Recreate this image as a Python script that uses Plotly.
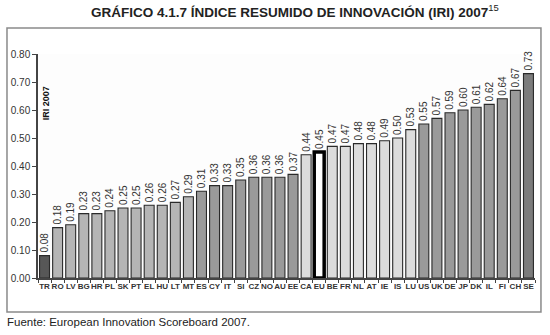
import plotly.graph_objects as go

# Índice Resumido de Innovación 2007 por país
countries = ["TR", "RO", "LV", "BG", "HR", "PL", "SK", "PT", "EL", "HU", "LT", "MT",
             "ES", "CY", "IT", "SI", "CZ", "NO", "AU", "EE", "CA", "EU", "BE", "FR",
             "NL", "AT", "IE", "IS", "LU", "US", "UK", "DE", "JP", "DK", "IL", "FI",
             "CH", "SE"]
iri_2007 = [0.08, 0.18, 0.19, 0.23, 0.23, 0.24, 0.25, 0.25, 0.26, 0.26, 0.27, 0.29,
            0.31, 0.33, 0.33, 0.35, 0.36, 0.36, 0.36, 0.37, 0.44, 0.45, 0.47, 0.47,
            0.48, 0.48, 0.49, 0.50, 0.53, 0.55, 0.57, 0.59, 0.60, 0.61, 0.62, 0.64,
            0.67, 0.73]
groups = ["low"] + ["catch"] * 11 + ["mid"] * 8 + ["light"] + ["eu"] + ["light"] * 7 + ["mid"] * 8 + ["top"]
y_ticks = [0.0, 0.1, 0.2, 0.3, 0.4, 0.5, 0.6, 0.7, 0.8]

fill = {"low": "#575757", "catch": "#b5b5b5", "mid": "#9a9a9a",
        "light": "#dcdcdc", "eu": "#ffffff", "top": "#7c7c7c"}
bar_colors = [fill[g] for g in groups]
line_widths = [3.5 if g == "eu" else 1.1 for g in groups]
line_colors = ["#000000" if g == "eu" else "#2a2a2a" for g in groups]

fig = go.Figure(go.Bar(
    x=countries, y=iri_2007,
    marker=dict(color=bar_colors, line=dict(color=line_colors, width=line_widths)),
    text=[f"{v:.2f}" for v in iri_2007],
    textposition="outside", textangle=-90, constraintext="none",
    textfont=dict(family="Liberation Sans, Arial", size=10, color="#333333"),
    cliponaxis=False,
))

fig.update_layout(
    width=550, height=335,
    margin=dict(l=38, r=15, t=54, b=57),
    paper_bgcolor="#ffffff", plot_bgcolor="#fdfdfd",
    bargap=0.24, showlegend=False,
    font=dict(family="Liberation Sans, Arial", color="#222222"),
)
fig.update_yaxes(
    range=[0, 0.8], tickvals=y_ticks, ticktext=[f"{v:.2f}" for v in y_ticks],
    showgrid=False, zeroline=False, showline=True, linecolor="#444444", linewidth=1.5,
    ticks="outside", ticklen=4, tickcolor="#444444",
    tickfont=dict(size=10, color="#333333"),
)
fig.update_xaxes(
    showgrid=False, showline=True, linecolor="#444444", linewidth=1.5,
    ticks="outside", ticklen=3, tickcolor="#444444", tickson="boundaries",
    tickfont=dict(size=8, color="#333333", family="Liberation Sans, Arial"),
    tickangle=0,
)
# country codes in bold
fig.update_xaxes(tickvals=countries, ticktext=[f"<b>{c}</b>" for c in countries])

fig.add_shape(type="rect", xref="paper", yref="paper",
              x0=-0.0624, x1=1.012, y0=-0.152, y1=1.116,
              line=dict(color="#8a8a8a", width=1.5), layer="below")

fig.add_annotation(xref="paper", yref="paper", x=0.518, y=1.19,
                   text="<b>GRÁFICO 4.1.7 ÍNDICE RESUMIDO DE INNOVACIÓN (IRI) 2007</b><sup>15</sup>",
                   showarrow=False, font=dict(size=13.5, color="#222222"),
                   xanchor="center", yanchor="middle")
fig.add_annotation(xref="paper", yref="paper", x=0.016, y=0.78,
                   text="<b>IRI 2007</b>", textangle=-90, showarrow=False,
                   font=dict(size=9, color="#111111"), xanchor="center", yanchor="middle")
fig.add_annotation(xref="paper", yref="paper", x=-0.066, y=-0.197,
                   text="Fuente: European Innovation Scoreboard 2007.", showarrow=False,
                   font=dict(size=11.5, color="#222222"), xanchor="left", yanchor="middle")

fig.write_html("out.html")
